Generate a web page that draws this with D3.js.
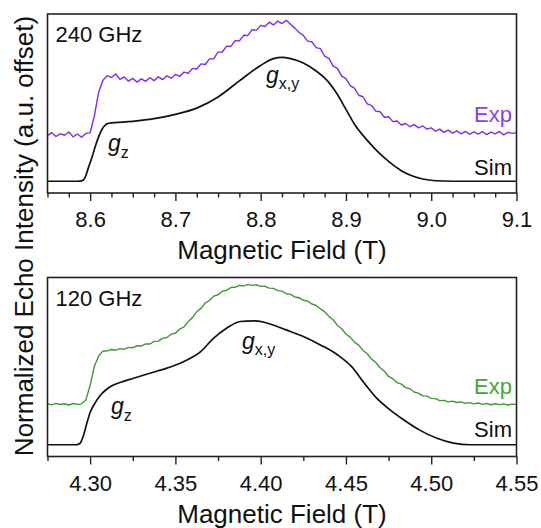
<!DOCTYPE html>
<html>
<head>
<meta charset="utf-8">
<script src="https://cdn.jsdelivr.net/npm/d3@7"></script>
<style>
  html, body { margin: 0; padding: 0; background: #fff; }
  svg { display: block; font-family: "Liberation Sans", Arial, sans-serif; }
</style>
</head>
<body>
<svg id="chart" width="541" height="528"></svg>
<script>
// ---- data (intensities in units of the simulated peak, experimental traces include their offset) ----
const topDomain = [8.55, 9.1];
const topTicks = [8.6, 8.7, 8.8, 8.9, 9.0, 9.1];
const bottomDomain = [4.275, 4.55];
const bottomTicks = [4.30, 4.35, 4.40, 4.45, 4.50, 4.55];
const intensityDomain = [-0.095, 1.35];

// 240 GHz simulation [field T, intensity]
const simTop = [
  [8.55, 0], [8.585, 0], [8.590, 0.003], [8.594, 0.03], [8.598, 0.11], [8.602, 0.19],
  [8.606, 0.28], [8.610, 0.36], [8.614, 0.42], [8.618, 0.455], [8.622, 0.468],
  [8.650, 0.483], [8.675, 0.505], [8.700, 0.54], [8.725, 0.59], [8.750, 0.68],
  [8.775, 0.81], [8.800, 0.935], [8.815, 0.99], [8.825, 1.0], [8.835, 0.99],
  [8.850, 0.955], [8.865, 0.89], [8.877, 0.82], [8.890, 0.70], [8.900, 0.58],
  [8.910, 0.46], [8.925, 0.33], [8.940, 0.22], [8.950, 0.16], [8.965, 0.085],
  [8.975, 0.05], [8.990, 0.018], [9.005, 0.004], [9.025, 0], [9.1, 0]
];

// 240 GHz experiment, sampled every 5 mT from 8.550 T
const expTopStart = 8.55, expTopStep = 0.005;
const expTop = [
  0.368, 0.392, 0.361, 0.384, 0.371, 0.398, 0.358, 0.381, 0.355, 0.386,
  0.390, 0.530, 0.720, 0.815, 0.852, 0.838, 0.866, 0.822, 0.842, 0.808,
  0.830, 0.800, 0.826, 0.806, 0.836, 0.812, 0.843, 0.820, 0.851, 0.832,
  0.862, 0.846, 0.881, 0.872, 0.911, 0.906, 0.947, 0.942, 0.988, 0.989,
  1.042, 1.043, 1.091, 1.088, 1.134, 1.133, 1.178, 1.177, 1.224, 1.218,
  1.258, 1.249, 1.284, 1.262, 1.293, 1.273, 1.299, 1.268, 1.236, 1.201,
  1.178, 1.131, 1.126, 1.079, 1.071, 1.009, 0.992, 0.929, 0.911, 0.849,
  0.829, 0.771, 0.751, 0.694, 0.682, 0.624, 0.611, 0.566, 0.561, 0.516,
  0.521, 0.481, 0.486, 0.454, 0.466, 0.440, 0.457, 0.431, 0.446, 0.421,
  0.431, 0.404, 0.421, 0.394, 0.412, 0.389, 0.407, 0.383, 0.402, 0.379,
  0.398, 0.381, 0.401, 0.376, 0.397, 0.383, 0.402, 0.374, 0.395, 0.386,
  0.392
];

// 120 GHz simulation [field T, intensity]
const simBottom = [
  [4.275, 0], [4.292, 0], [4.294, 0.01], [4.296, 0.07], [4.298, 0.17], [4.300, 0.26],
  [4.303, 0.34], [4.306, 0.40], [4.309, 0.44], [4.312, 0.47], [4.318, 0.505],
  [4.325, 0.535], [4.335, 0.577], [4.345, 0.618], [4.355, 0.672], [4.365, 0.753],
  [4.372, 0.855], [4.380, 0.94], [4.388, 0.995], [4.396, 1.0], [4.402, 0.989],
  [4.406, 0.973], [4.415, 0.927], [4.425, 0.874], [4.435, 0.806], [4.445, 0.726],
  [4.454, 0.62], [4.460, 0.51], [4.468, 0.376], [4.476, 0.28], [4.484, 0.20],
  [4.493, 0.12], [4.503, 0.054], [4.513, 0.013], [4.523, 0], [4.55, 0]
];

// 120 GHz experiment, sampled every 2.5 mT from 4.275 T
const expBottomStart = 4.275, expBottomStep = 0.0025;
const expBottom = [
  0.332, 0.322, 0.334, 0.325, 0.331, 0.321, 0.333, 0.326, 0.330, 0.362,
  0.478, 0.634, 0.716, 0.758, 0.757, 0.769, 0.763, 0.776, 0.771, 0.786,
  0.783, 0.799, 0.797, 0.814, 0.813, 0.834, 0.836, 0.859, 0.866, 0.892,
  0.901, 0.934, 0.951, 0.994, 1.026, 1.074, 1.101, 1.144, 1.166, 1.199,
  1.211, 1.239, 1.246, 1.269, 1.271, 1.286, 1.283, 1.294, 1.286, 1.291,
  1.278, 1.279, 1.264, 1.262, 1.244, 1.240, 1.219, 1.214, 1.193, 1.187,
  1.166, 1.159, 1.136, 1.124, 1.096, 1.074, 1.036, 1.009, 0.964, 0.936,
  0.894, 0.869, 0.828, 0.804, 0.761, 0.734, 0.691, 0.664, 0.621, 0.594,
  0.551, 0.532, 0.501, 0.489, 0.461, 0.452, 0.426, 0.416, 0.394, 0.392,
  0.374, 0.372, 0.356, 0.358, 0.346, 0.352, 0.341, 0.346, 0.334, 0.340,
  0.330, 0.337, 0.326, 0.334, 0.323, 0.331, 0.324, 0.330, 0.321, 0.328,
  0.324
];

// ---- layout ----
const svg = d3.select('#chart');
const margin = { left: 47.5, right: 24.5 };
const width = 541 - margin.left - margin.right;
const panelH = 179;

const panels = [
  {
    label: '240 GHz', top: 14, domain: topDomain, ticks: topTicks, fmt: '.1f',
    sim: simTop,
    exp: expTop.map((v, i) => [expTopStart + i * expTopStep, v]),
    color: '#7a2df2', textColor: '#8a40f0',
    gz: [60.5, 137], gxy: [218.5, 69], expY: 108, simY: 161
  },
  {
    label: '120 GHz', top: 277.5, domain: bottomDomain, ticks: bottomTicks, fmt: '.2f',
    sim: simBottom,
    exp: expBottom.map((v, i) => [expBottomStart + i * expBottomStep, v]),
    color: '#3d9a30', textColor: '#47a33a',
    gz: [63.5, 136.5], gxy: [194.5, 71.5], expY: 116.5, simY: 159.5
  }
];

panels.forEach((p, k) => {
  const g = svg.append('g').attr('transform', `translate(${margin.left},${p.top})`);
  const x = d3.scaleLinear().domain(p.domain).range([0, width]);
  const y = d3.scaleLinear().domain(intensityDomain).range([panelH, 0]);

  g.append('clipPath').attr('id', 'clip' + k)
    .append('rect').attr('width', width).attr('height', panelH);

  // minor ticks every 25 mT
  const minor = d3.range(p.domain[0], p.domain[1] + 1e-6, 0.025)
    .filter(v => !p.ticks.some(t => Math.abs(t - v) < 1e-6));
  g.append('g')
    .attr('transform', `translate(0,${panelH})`)
    .call(d3.axisBottom(x).tickValues(minor).tickSize(4.5).tickFormat(''))
    .call(a => a.select('.domain').remove())
    .selectAll('line').attr('stroke', '#222').attr('stroke-width', 1.4);

  const ax = g.append('g')
    .attr('transform', `translate(0,${panelH})`)
    .call(d3.axisBottom(x).tickValues(p.ticks).tickSize(8).tickFormat(d3.format(p.fmt)))
    .call(a => a.select('.domain').remove());
  ax.selectAll('line').attr('stroke', '#222').attr('stroke-width', 1.4);
  ax.selectAll('text')
    .attr('y', 34).attr('dy', 0)
    .attr('fill', '#111')
    .style('font-size', '22px')
    .style('font-family', '"Liberation Sans", Arial, sans-serif');

  const simLine = d3.line().x(d => x(d[0])).y(d => y(d[1])).curve(d3.curveMonotoneX);
  const expLine = d3.line().x(d => x(d[0])).y(d => y(d[1]));

  const lines = g.append('g').attr('clip-path', `url(#clip${k})`);
  lines.append('path').datum(p.exp)
    .attr('d', expLine).attr('fill', 'none')
    .attr('stroke', p.color).attr('stroke-width', 1.4).attr('stroke-linejoin', 'round');
  lines.append('path').datum(p.sim)
    .attr('d', simLine).attr('fill', 'none')
    .attr('stroke', '#111').attr('stroke-width', 1.7);

  // frame
  g.append('rect').attr('width', width).attr('height', panelH)
    .attr('fill', 'none').attr('stroke', '#222').attr('stroke-width', 1.6);

  // annotations
  g.append('text').attr('x', 8).attr('y', 28)
    .style('font-size', '22px').attr('fill', '#111').text(p.label);

  g.append('text').attr('x', width - 4.5).attr('y', p.expY)
    .attr('text-anchor', 'end').style('font-size', '22px')
    .attr('fill', p.textColor).text('Exp');
  g.append('text').attr('x', width - 4.5).attr('y', p.simY)
    .attr('text-anchor', 'end').style('font-size', '22px')
    .attr('fill', '#111').text('Sim');

  const gz = g.append('text').attr('x', p.gz[0]).attr('y', p.gz[1])
    .style('font-size', '23px').attr('fill', '#111');
  gz.append('tspan').style('font-style', 'italic').text('g');
  gz.append('tspan').attr('dy', 7).style('font-size', '16px').text('z');

  const gxy = g.append('text').attr('x', p.gxy[0]).attr('y', p.gxy[1])
    .style('font-size', '23px').attr('fill', '#111');
  gxy.append('tspan').style('font-style', 'italic').text('g');
  gxy.append('tspan').attr('dy', 6).style('font-size', '16px').text('x,y');

  // x axis title
  g.append('text').attr('x', width / 2).attr('y', panelH + 66)
    .attr('text-anchor', 'middle').style('font-size', '26px')
    .attr('fill', '#111').text('Magnetic Field (T)');
});

// shared y axis title
svg.append('text')
  .attr('transform', 'translate(33,236) rotate(-90)')
  .attr('text-anchor', 'middle').style('font-size', '26px')
  .attr('fill', '#111').text('Normalized Echo Intensity (a.u. offset)');
</script>
</body>
</html>
